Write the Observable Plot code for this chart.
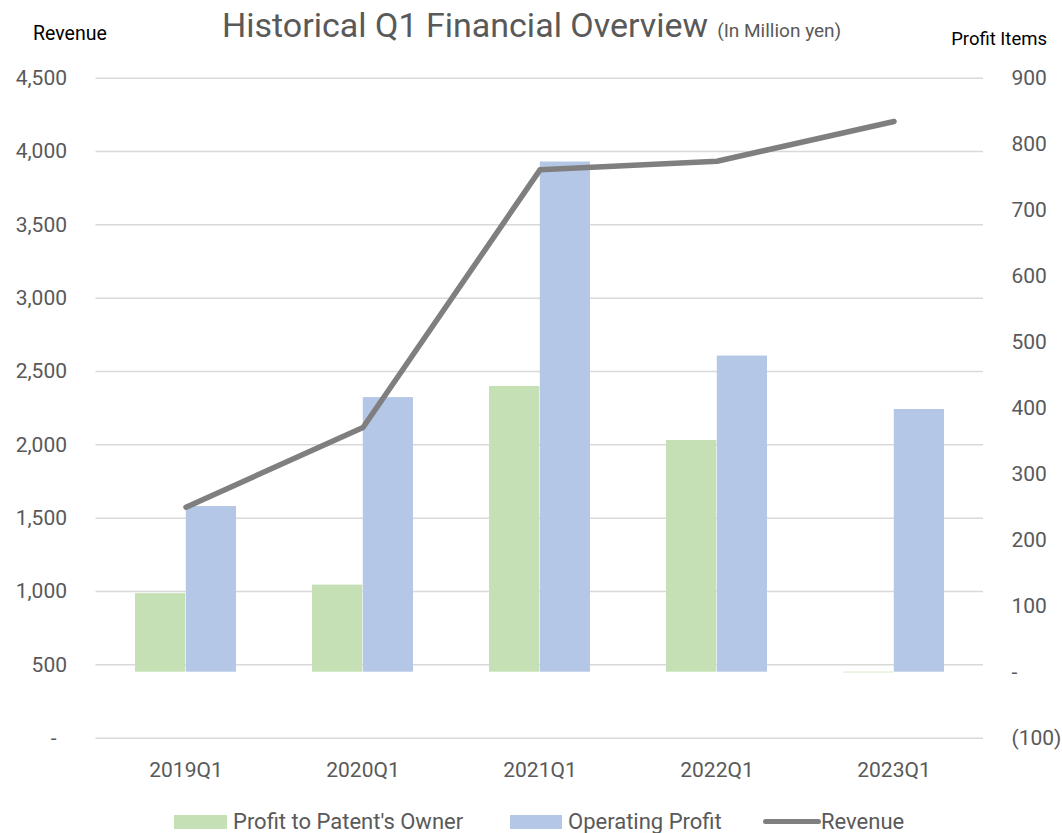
<!DOCTYPE html>
<html>
<head>
<meta charset="utf-8">
<script src="https://cdn.jsdelivr.net/npm/d3@7"></script>
<script src="https://cdn.jsdelivr.net/npm/@observablehq/plot@0.6"></script>
<style>
  html, body { margin: 0; padding: 0; background: #fff; }
  #wrap { position: relative; width: 1062px; height: 833px; overflow: hidden; font-family: Roboto, sans-serif; }
  #wrap svg { position: absolute; left: 0; top: 0; }
  .abs { position: absolute; white-space: nowrap; line-height: 1; }
  #title { left: 222px; top: 8px; color: #595959; font-size: 34px; }
  #title .sub { font-size: 19px; margin-left: 9px; }
  #ylab { left: 33px; top: 24px; font-size: 19.5px; color: #000; }
  #y2lab { right: 15px; top: 30px; font-size: 18.5px; color: #000; }
  #legend .sw { position: absolute; }
  #legend .lt { position: absolute; font-size: 22px; color: #595959; line-height: 1; top: 811px; }
</style>
</head>
<body>
<div id="wrap">
  <div class="abs" id="title">Historical Q1 Financial Overview<span class="sub">(In Million yen)</span></div>
  <div class="abs" id="ylab">Revenue</div>
  <div class="abs" id="y2lab">Profit Items</div>
  <div id="legend"></div>
</div>
<script>
// ---- data ----
const categories = ["2019Q1", "2020Q1", "2021Q1", "2022Q1", "2023Q1"];
const revenue = [1575, 2118, 3875, 3934, 4205];              // left axis
const operatingProfit = [251, 416, 773, 479, 398];           // right axis
const ownerProfit = [119, 132, 433, 351, -1];                // right axis
const leftTicks = [0, 500, 1000, 1500, 2000, 2500, 3000, 3500, 4000, 4500];
const rightTicks = [-100, 0, 100, 200, 300, 400, 500, 600, 700, 800, 900];
const seriesNames = ["Profit to Patent's Owner", "Operating Profit", "Revenue"];
const colors = ["#c5e0b4", "#b4c7e7", "#7f7f7f"];

// right axis domain [-100, 900] maps onto left axis domain [0, 4500]
const leftDomain = [0, 4500];
const rightDomain = [-100, 900];
const toLeft = v => (v - rightDomain[0]) / (rightDomain[1] - rightDomain[0]) * (leftDomain[1] - leftDomain[0]) + leftDomain[0];
const fromLeft = v => Math.round((v - leftDomain[0]) / (leftDomain[1] - leftDomain[0]) * (rightDomain[1] - rightDomain[0]) + rightDomain[0]);

const rows = categories.map((c, i) => ({
  cat: c, revenue: revenue[i], op: operatingProfit[i], owner: ownerProfit[i]
}));

const fmt = d3.format(",");
const leftFmt = d => d === 0 ? "-\u00a0\u00a0" : fmt(d);
const rightFmt = d => {
  const v = fromLeft(d);
  if (v === 0) return "-";
  if (v < 0) return "(" + fmt(-v) + ")";
  return fmt(v);
};

const half = 50.8;

const chart = Plot.plot({
  width: 1062,
  height: 790,
  marginTop: 77.7,
  marginBottom: 52.3,
  marginLeft: 95.5,
  marginRight: 79,
  style: { fontFamily: "Roboto, sans-serif", fontSize: "21px", color: "#595959", background: "transparent", overflow: "visible" },
  x: { type: "band", domain: categories, paddingInner: 0.427, paddingOuter: 0.2135, label: null },
  y: { domain: leftDomain, label: null },
  marks: [
    Plot.gridY(leftTicks, { stroke: "#d9d9d9", strokeOpacity: 1, strokeWidth: 1.5 }),
    Plot.barY(rows, { x: "cat", y1: () => toLeft(0), y2: d => toLeft(d.owner), fill: colors[0], insetRight: half }),
    Plot.barY(rows, { x: "cat", y1: () => toLeft(0), y2: d => toLeft(d.op), fill: colors[1], insetLeft: half }),
    Plot.lineY(rows, { x: "cat", y: "revenue", stroke: colors[2], strokeWidth: 5.5, strokeLinecap: "round", strokeLinejoin: "round" }),
    Plot.axisY(leftTicks, { anchor: "left", tickSize: 0, tickPadding: 29, tickFormat: leftFmt, label: null }),
    Plot.axisY(rightTicks.map(toLeft), { anchor: "right", tickSize: 0, tickPadding: 28, tickFormat: rightFmt, label: null }),
    Plot.axisX({ tickSize: 0, tickPadding: 24, label: null })
  ]
});
document.getElementById("wrap").prepend(chart);

// ---- legend ----
const legend = document.getElementById("legend");
const items = [
  { left: 174, type: "rect", w: 53 },
  { left: 510, type: "rect", w: 52 },
  { left: 763, type: "line", w: 58 }
];
items.forEach((it, i) => {
  const sw = document.createElement("div");
  sw.className = "sw";
  sw.style.left = it.left + "px";
  sw.style.width = it.w + "px";
  sw.style.background = colors[i];
  if (it.type === "rect") { sw.style.top = "815px"; sw.style.height = "14px"; }
  else { sw.style.top = "819px"; sw.style.height = "5px"; sw.style.borderRadius = "3px"; }
  legend.appendChild(sw);
  const t = document.createElement("div");
  t.className = "lt";
  t.textContent = seriesNames[i];
  t.style.left = (it.left + it.w + (it.type === "rect" ? 6 : 0)) + "px";
  legend.appendChild(t);
});
</script>
</body>
</html>
